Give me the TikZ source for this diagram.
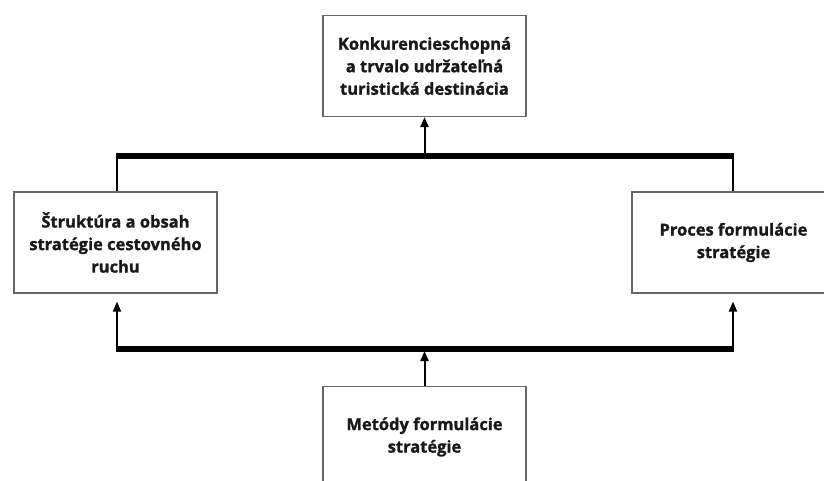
\documentclass[tikz,border=0pt]{standalone}
\usepackage{fontspec}
\setmainfont{Open Sans}[BoldFeatures={FakeBold=1.2}]
\usetikzlibrary{arrows.meta}
\begin{document}
\begin{tikzpicture}[x=1pt,y=-1pt,
  box/.style={draw=black!60, line width=1.1pt, fill=white, minimum width=203pt, minimum height=101pt,
    inner sep=0pt, align=center, font=\fontsize{16.5}{22.5}\selectfont\bfseries, text=black!90},
  bus/.style={line width=6pt, black},
  conn/.style={line width=2pt, black},
  arr/.style={conn, -{Triangle[width=8pt,length=10pt]}}]
\useasboundingbox (0,0) rectangle (824,481);
\clip (0,0) rectangle (824,481);
\fill[white] (0,0) rectangle (824,481);
\node[box] (T) at (424.5,66) {Konkurencieschopná\\a trvalo udržateľná\\turistická destinácia};
\node[box] (L) at (115.5,242.5) {Štruktúra a obsah\\stratégie cestovného\\ruchu};
\node[box] (R) at (733.5,242.5) {Proces formulácie\\stratégie};
\node[box] (B) at (424.5,437) {Metódy formulácie\\stratégie};
\coordinate (tl) at (117,156);
\coordinate (tc) at (424.5,156);
\coordinate (tr) at (733,156);
\coordinate (bl) at (117,349);
\coordinate (bc) at (424.5,349);
\coordinate (br) at (733,349);
\draw[conn] (tl) -- (tl |- L.north);
\draw[conn] (tr) -- (tr |- R.north);
\draw[arr, shorten >=8pt] (bl) -- (bl |- L.south);
\draw[arr, shorten >=8pt] (br) -- (br |- R.south);
\draw[arr] (tc) -- (T.south);
\draw[arr, shorten >=2pt] (B.north) -- (bc);
\draw[bus] ([xshift=-1pt]tl) -- ([xshift=1pt]tr);
\draw[bus] ([xshift=-1pt]bl) -- ([xshift=1pt]br);
\end{tikzpicture}
\end{document}
